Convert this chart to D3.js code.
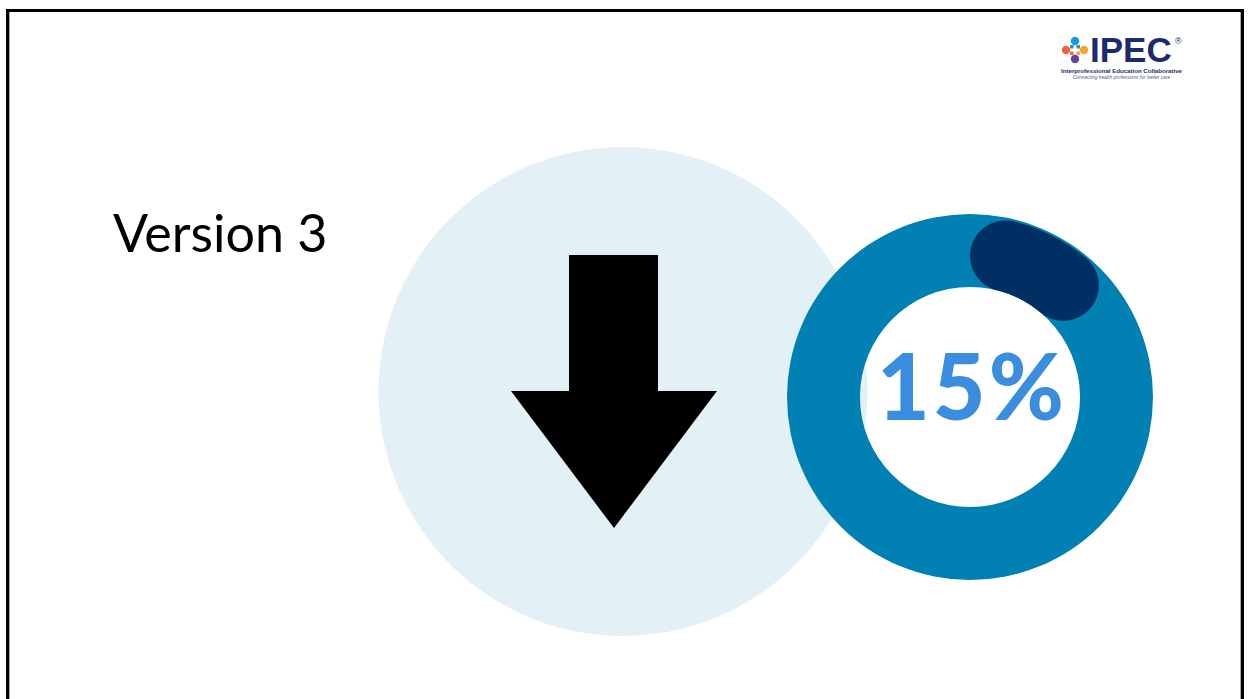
<!DOCTYPE html>
<html>
<head>
<meta charset="utf-8">
<script src="https://cdn.jsdelivr.net/npm/d3@7"></script>
<style>
  html, body { margin: 0; padding: 0; background: #fff; overflow: hidden; }
  svg { display: block; }
</style>
</head>
<body>
<svg id="slide" width="1250" height="699"></svg>
<script>
// data
const titleText = ["Version 3"];
const pctValue = [15];
const pctTotal = [100];
const logoDots = [
  { name: "top", dx: 0, dy: -9, color: "#1E9BD7" },
  { name: "left", dx: -9, dy: 0, color: "#F0663A" },
  { name: "right", dx: 9, dy: 0, color: "#F8A431" },
  { name: "bottom", dx: 0, dy: 9, color: "#6B3F98" }
];
const logoLines = ["Interprofessional Education Collaborative", "Connecting health professions for better care"];

const svg = d3.select("#slide");

// slide frame
svg.append("rect")
  .attr("x", 7.5).attr("y", 10.5)
  .attr("width", 1235).attr("height", 740)
  .attr("fill", "#fff")
  .attr("stroke", "#000")
  .attr("stroke-width", 3);
svg.append("line").attr("x1", 9.5).attr("x2", 9.5).attr("y1", 12).attr("y2", 699)
  .attr("stroke", "#aaa").attr("stroke-width", 1);
svg.append("line").attr("x1", 1240.5).attr("x2", 1240.5).attr("y1", 12).attr("y2", 699)
  .attr("stroke", "#aaa").attr("stroke-width", 1);

// title
svg.append("text")
  .attr("x", 113).attr("y", 252)
  .attr("font-family", "Lato, 'Open Sans', sans-serif")
  .attr("font-size", 52)
  .attr("fill", "#000")
  .text(titleText[0]);

// light background circle + arrow
svg.append("circle")
  .attr("cx", 623).attr("cy", 391.5).attr("r", 244.5)
  .attr("fill", "#E3F0F6");

const arrow = d3.path();
arrow.moveTo(569, 255);
arrow.lineTo(658, 255);
arrow.lineTo(658, 391);
arrow.lineTo(717, 391);
arrow.lineTo(614, 528);
arrow.lineTo(511, 391);
arrow.lineTo(569, 391);
arrow.closePath();
svg.append("path").attr("d", arrow.toString()).attr("fill", "#000");

// donut
const cx = 970, cy = 397;
const rOuter = 183, rInner = 110;
const angle = d3.scaleLinear().domain([0, pctTotal[0]]).range([0, 2 * Math.PI]);

const donut = svg.append("g").attr("transform", `translate(${cx},${cy})`);

const ringArc = d3.arc().innerRadius(rInner).outerRadius(rOuter);
donut.append("path")
  .attr("d", ringArc({ startAngle: 0, endAngle: 2 * Math.PI }))
  .attr("fill", "#0080B3");

const valueArc = d3.arc()
  .innerRadius(rInner)
  .outerRadius(rOuter - 2)
  .cornerRadius((rOuter - 2 - rInner) / 2);
donut.selectAll("path.value")
  .data(pctValue)
  .join("path")
  .attr("class", "value")
  .attr("d", d => valueArc({ startAngle: angle(0), endAngle: angle(d) }))
  .attr("fill", "#003063");

donut.append("text")
  .attr("x", 2).attr("y", 23)
  .attr("text-anchor", "middle")
  .attr("font-family", "Lato, sans-serif")
  .attr("font-weight", 900)
  .attr("font-size", 91)
  .attr("letter-spacing", 3)
  .attr("fill", "#3A8EDD")
  .text(pctValue[0] + "%");

// logo
const logo = svg.append("g").attr("transform", "translate(1075,50)");
logo.append("rect").attr("x", -5).attr("y", -5).attr("width", 10).attr("height", 10)
  .attr("fill", "#2F8FCB");
logo.append("rect").attr("x", -5).attr("y", 0).attr("width", 5).attr("height", 5).attr("fill", "#F0663A");
logo.append("rect").attr("x", 0).attr("y", 0).attr("width", 5).attr("height", 5).attr("fill", "#F8A431");
logo.append("rect").attr("x", -1.5).attr("y", -5).attr("width", 3).attr("height", 10).attr("fill", "#fff");
logo.append("rect").attr("x", -5).attr("y", -1.5).attr("width", 10).attr("height", 3).attr("fill", "#fff");
logo.selectAll("circle")
  .data(logoDots)
  .join("circle")
  .attr("cx", d => d.dx).attr("cy", d => d.dy).attr("r", 4.2)
  .attr("fill", d => d.color);

svg.append("text")
  .attr("x", 1090).attr("y", 62)
  .attr("font-family", "'Liberation Sans', Arial, sans-serif")
  .attr("font-weight", 700)
  .attr("font-size", 35)
  .attr("fill", "#1C2B6B")
  .text("IPEC");
svg.append("text")
  .attr("x", 1175).attr("y", 44)
  .attr("font-family", "'Liberation Sans', Arial, sans-serif")
  .attr("font-size", 9)
  .attr("fill", "#1C2B6B")
  .text("®");

svg.append("text")
  .attr("x", 1121.5).attr("y", 72.5)
  .attr("text-anchor", "middle")
  .attr("font-family", "'Liberation Sans', Arial, sans-serif")
  .attr("font-weight", 700)
  .attr("font-size", 6.1)
  .attr("fill", "#1C2B6B")
  .text(logoLines[0]);
svg.append("text")
  .attr("x", 1121.5).attr("y", 78.5)
  .attr("text-anchor", "middle")
  .attr("font-family", "'Liberation Sans', Arial, sans-serif")
  .attr("font-style", "italic")
  .attr("font-size", 4.9)
  .attr("fill", "#4A5A8A")
  .text(logoLines[1]);
</script>
</body>
</html>
